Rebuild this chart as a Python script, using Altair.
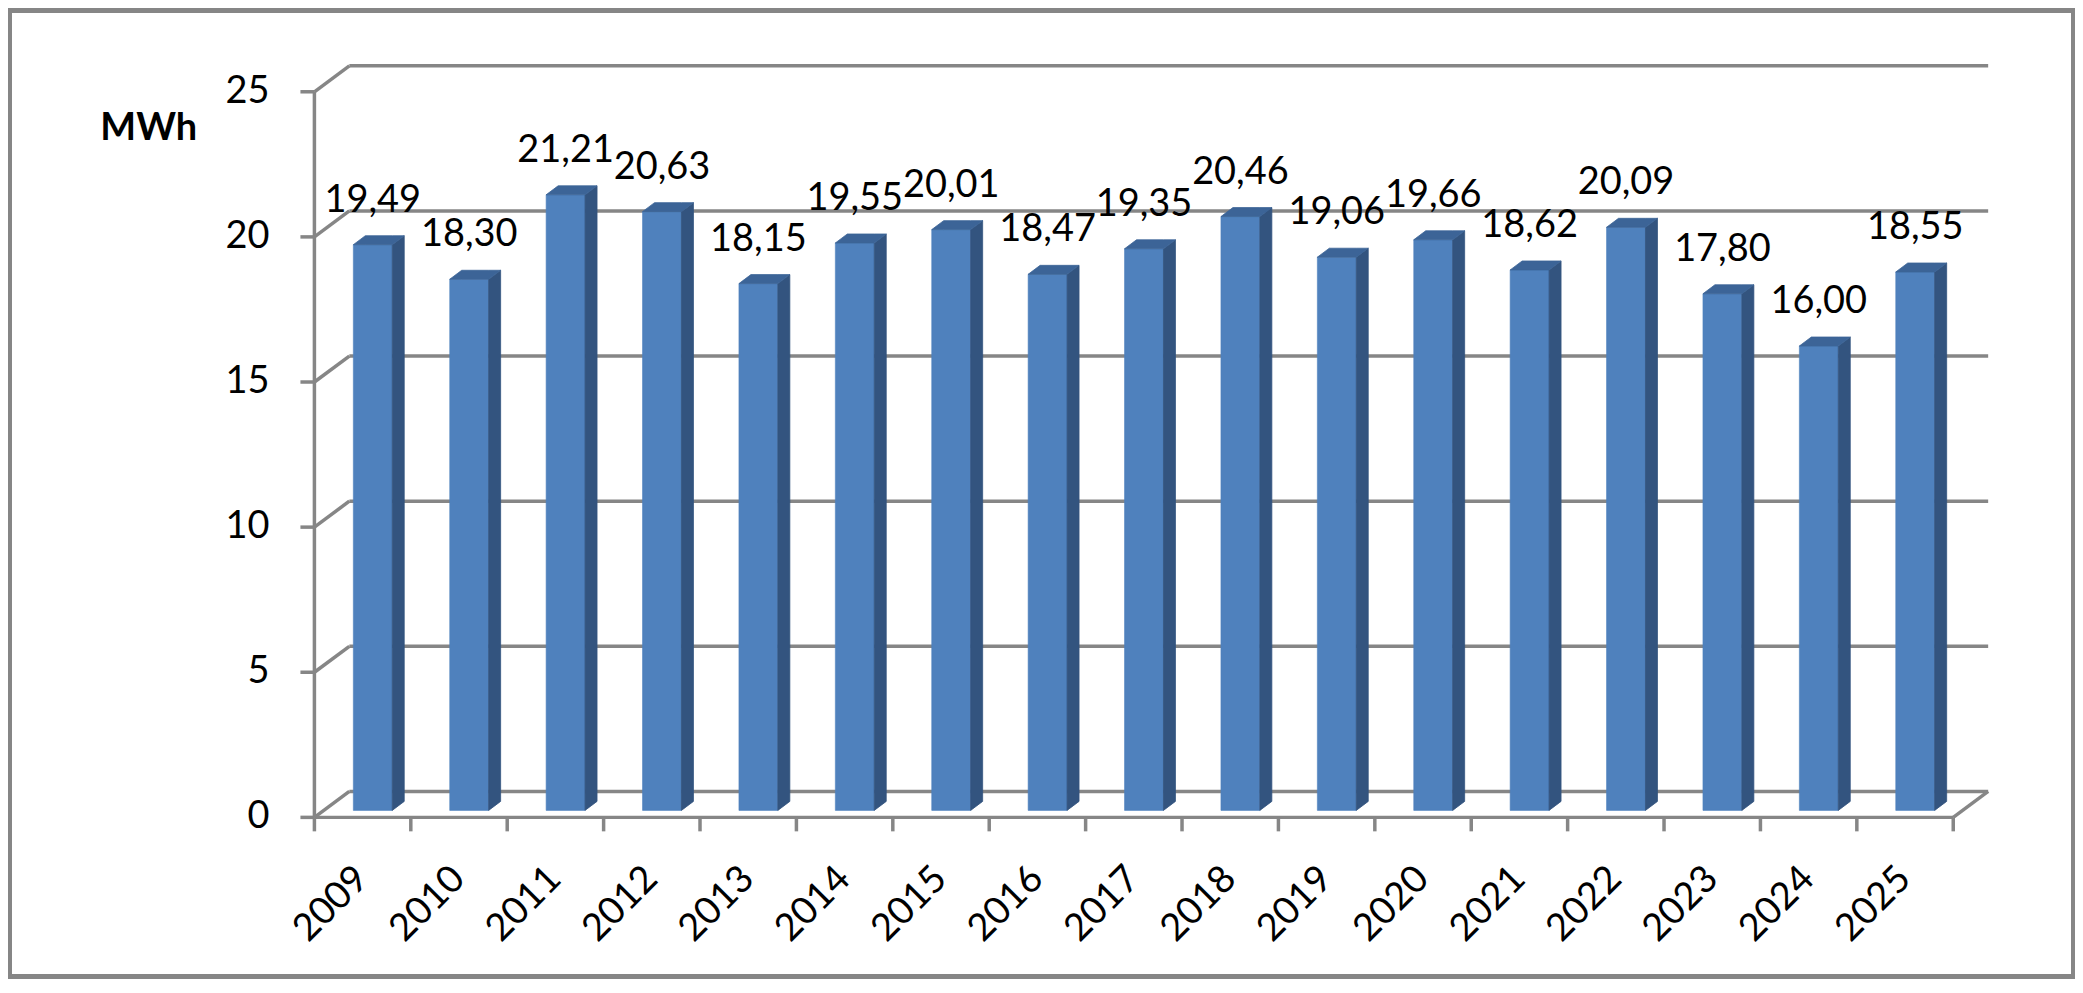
import altair as alt
import pandas as pd

# ---------------- data ----------------
years = [str(y) for y in range(2009, 2026)]
values = [19.49, 18.30, 21.21, 20.63, 18.15, 19.55, 20.01, 18.47, 19.35,
          20.46, 19.06, 19.66, 18.62, 20.09, 17.80, 16.00, 18.55]
y_ticks = [0, 5, 10, 15, 20, 25]
y_title = "MWh"

# ---------------- style ----------------
W, H = 2071, 971             # view size (whole framed picture)
X0, X1 = 307, 1949           # front plane x-range inside the view
Y0, Y1 = 810, 83             # front plane y-range (0 -> 25)
N = len(years)
YMAX = max(y_ticks)
PXX = (X1 - X0) / N
PXY = (Y0 - Y1) / YMAX
GREY = "#868686"
LW = 3.5
FONT = "Lato"
FS = 38
WALL_DX, WALL_DY = 35, -26   # depth of back wall (px)
FL, FR = 39, 78              # front face left/right inside a band (px)
DDX, DDY = 12, 9             # bar depth (px)
BASE = 7                     # bar base above front floor line (px)
FACE_COLORS = {"front": "#4F81BD", "side": "#33547F", "top": "#3C6497"}


def ux(px):
    return px / PXX


def uy(px):
    return px / PXY


# bar faces built from the values
front_rows, poly_rows = [], []
for i, (yr, v) in enumerate(zip(years, values)):
    b = uy(BASE)
    t = b + v
    d = uy(DDY)
    front_rows.append(dict(face="front", x=i + ux(FL), x2=i + ux(FR), lo=b, hi=t))
    poly_rows += [
        dict(key=yr + "s", face="side", px=i + ux(FR), lo=b, hi=t),
        dict(key=yr + "s", face="side", px=i + ux(FR + DDX), lo=b + d, hi=t + d),
        dict(key=yr + "t", face="top", px=i + ux(FL), lo=t, hi=t),
        dict(key=yr + "t", face="top", px=i + ux(FL + DDX), lo=t, hi=t + d),
        dict(key=yr + "t", face="top", px=i + ux(FR), lo=t, hi=t + d),
        dict(key=yr + "t", face="top", px=i + ux(FR + DDX), lo=t + d, hi=t + d),
    ]
front_df = pd.DataFrame(front_rows)
poly_df = pd.DataFrame(poly_rows)

labels_df = pd.DataFrame({
    "year": years,
    "value": values,
    "lx": [i + ux((FL + FR) / 2) for i in range(N)],
    "cx": [i + 0.5 for i in range(N)],
    "zero": [0] * N,
})

ytick_df = pd.DataFrame({"v": y_ticks, "x0": [0] * len(y_ticks), "x1": [N] * len(y_ticks)})
diag_df = pd.DataFrame({"v": y_ticks + [0], "x0": [0] * len(y_ticks) + [N]})
xtick_df = pd.DataFrame({"i": list(range(N + 1)), "zero": [0] * (N + 1)})
frame_df = pd.DataFrame({"x0": [0], "x1": [N], "y0": [0], "y1": [YMAX], "t": [y_title]})

xs = alt.Scale(domain=[0, N], range=[X0, X1], nice=False, zero=False)
ys = alt.Scale(domain=[0, YMAX], range=[Y0, Y1], nice=False)


def X(f):
    return alt.X(f, scale=xs, axis=None)


def Y(f):
    return alt.Y(f, scale=ys, axis=None)


rule = dict(color=GREY, strokeWidth=LW)

grid = alt.Chart(ytick_df).mark_rule(
    xOffset=WALL_DX, x2Offset=WALL_DX, yOffset=WALL_DY, **rule
).encode(x=X("x0:Q"), x2="x1:Q", y=Y("v:Q"))

diag = alt.Chart(diag_df).mark_rule(
    x2Offset=WALL_DX, y2Offset=WALL_DY, **rule
).encode(x=X("x0:Q"), x2="x0:Q", y=Y("v:Q"), y2="v:Q")

y_domain = alt.Chart(frame_df).mark_rule(**rule).encode(x=X("x0:Q"), y=Y("y0:Q"), y2="y1:Q")
x_domain = alt.Chart(frame_df).mark_rule(**rule).encode(x=X("x0:Q"), x2="x1:Q", y=Y("y0:Q"))
y_tick_marks = alt.Chart(ytick_df).mark_rule(xOffset=-14, **rule).encode(
    x=X("x0:Q"), x2="x0:Q", y=Y("v:Q"))
x_tick_marks = alt.Chart(xtick_df).mark_rule(y2Offset=14, **rule).encode(
    x=X("i:Q"), y=Y("zero:Q"), y2="zero:Q")

y_labels = alt.Chart(ytick_df).mark_text(
    font=FONT, fontSize=FS, color="black", align="right", baseline="middle", xOffset=-45
).encode(x=X("x0:Q"), y=Y("v:Q"), text="v:N")

y_title_mark = alt.Chart(frame_df).mark_text(
    font=FONT, fontSize=FS, fontWeight="bold", color="black", align="center",
    baseline="middle", xOffset=-166, yOffset=37
).encode(x=X("x0:Q"), y=Y("y1:Q"), text="t:N")

face_scale = alt.Scale(domain=list(FACE_COLORS.keys()), range=list(FACE_COLORS.values()))

fronts = alt.Chart(front_df).mark_rect(strokeWidth=0.6).encode(
    x=X("x:Q"), x2="x2:Q", y=Y("lo:Q"), y2="hi:Q",
    fill=alt.Fill("face:N", scale=face_scale, legend=None),
    stroke=alt.Stroke("face:N", scale=face_scale, legend=None),
)

polys = alt.Chart(poly_df).mark_area(
    orient="vertical", interpolate="linear", strokeWidth=0.8, fillOpacity=1
).encode(
    x=X("px:Q"), y=Y("lo:Q"), y2="hi:Q",
    detail="key:N",
    fill=alt.Fill("face:N", scale=face_scale, legend=None),
    stroke=alt.Stroke("face:N", scale=face_scale, legend=None),
)

value_labels = alt.Chart(labels_df).transform_calculate(
    txt="replace(format(datum.value, '.2f'), '.', ',')"
).mark_text(font=FONT, fontSize=FS, color="black", align="center",
            baseline="alphabetic", dy=-40).encode(
    x=X("lx:Q"), y=Y("value:Q"), text="txt:N")

year_labels = alt.Chart(labels_df).mark_text(
    font=FONT, fontSize=FS, color="black", align="right", baseline="middle",
    angle=315, yOffset=56
).encode(x=X("cx:Q"), y=Y("zero:Q"), text="year:N")

chart = alt.layer(
    grid, diag, y_domain, x_domain, y_tick_marks, x_tick_marks,
    fronts, polys, value_labels, year_labels, y_labels, y_title_mark
).properties(
    width=W, height=H, padding=0, background="white",
    autosize=alt.AutoSizeParams(type="none"),
).configure_view(stroke=GREY, strokeWidth=8, fill="white")

chart.save("out.html", embed_options={"renderer": "svg", "actions": False})
